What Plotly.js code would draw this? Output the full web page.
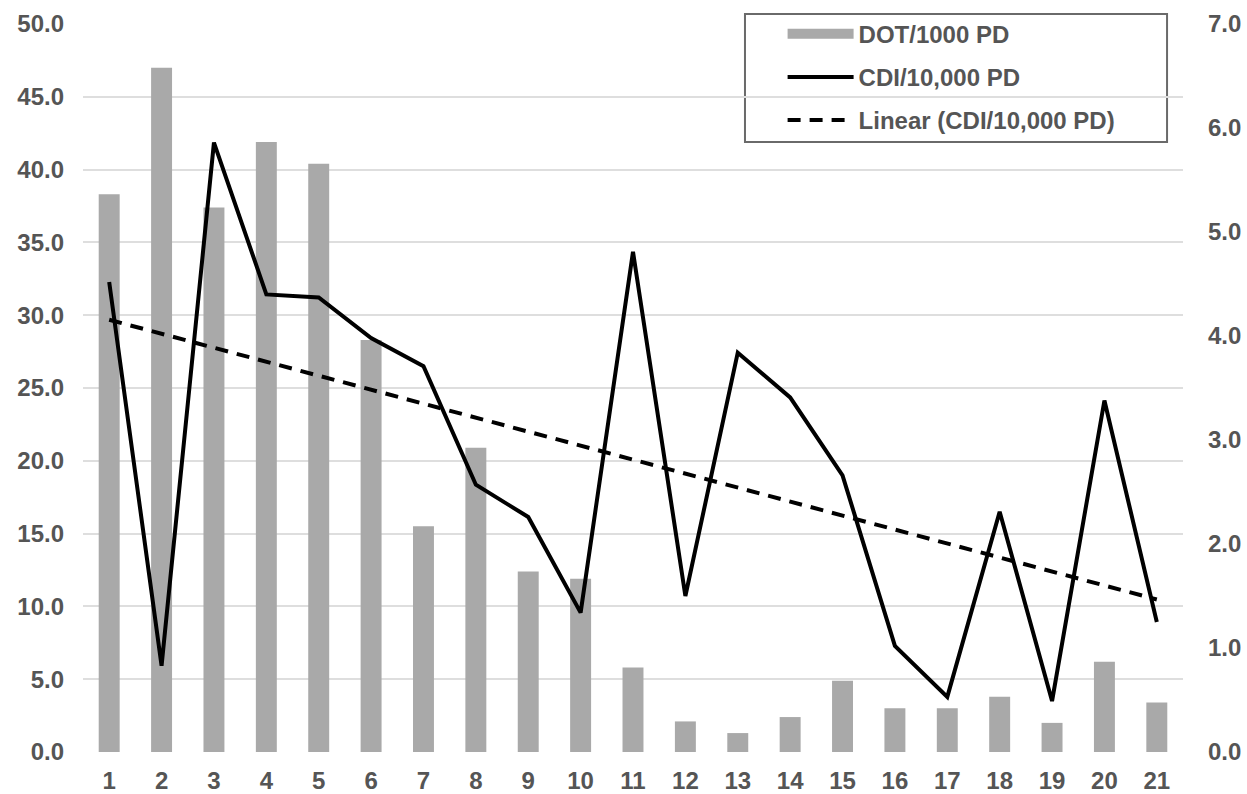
<!DOCTYPE html>
<html>
<head>
<meta charset="utf-8">
<script src="https://cdn.plot.ly/plotly-3.0.1.min.js"></script>
<style>
  html, body { margin: 0; padding: 0; background: #ffffff; }
  #chart { width: 1247px; height: 794px; }
</style>
</head>
<body>
<div id="chart"></div>
<script>
// ---- data ----
const categories = ['1','2','3','4','5','6','7','8','9','10','11','12','13','14','15','16','17','18','19','20','21'];
const dotPer1000PD = [38.3, 47.0, 37.4, 41.9, 40.4, 28.3, 15.5, 20.9, 12.4, 11.9, 5.8, 2.1, 1.3, 2.4, 4.9, 3.0, 3.0, 3.8, 2.0, 6.2, 3.4];
const cdiPer10000PD = [4.52, 0.83, 5.86, 4.40, 4.37, 3.98, 3.71, 2.57, 2.26, 1.34, 4.81, 1.50, 3.84, 3.41, 2.66, 1.02, 0.53, 2.31, 0.49, 3.38, 1.25];
const leftTicks = [0, 5, 10, 15, 20, 25, 30, 35, 40, 45, 50];
const rightTicks = [0, 1, 2, 3, 4, 5, 6, 7];
const seriesNames = ['DOT/1000 PD', 'CDI/10,000 PD', 'Linear (CDI/10,000 PD)'];

// least-squares linear trendline of the CDI series (as Excel's "Linear" trendline)
const n = cdiPer10000PD.length;
const idx = cdiPer10000PD.map((_, i) => i + 1);
const mx = idx.reduce((a, b) => a + b, 0) / n;
const my = cdiPer10000PD.reduce((a, b) => a + b, 0) / n;
let sxy = 0, sxx = 0;
for (let i = 0; i < n; i++) { sxy += (idx[i] - mx) * (cdiPer10000PD[i] - my); sxx += (idx[i] - mx) ** 2; }
const slope = sxy / sxx;
const intercept = my - slope * mx;
const trend = idx.map(x => intercept + slope * x);

const textColor = '#555555';
const barColor = '#a9a9a9';
const font = { family: 'Liberation Sans, Arial, sans-serif', size: 24, color: textColor, weight: 'bold' };

const traces = [
  { type: 'bar', x: categories, y: dotPer1000PD, name: seriesNames[0], marker: { color: barColor },
    yaxis: 'y', showlegend: false, legendgroup: 'g1', hoverinfo: 'x+y' },
  // legend-only swatch for the bars (wide strip as in the reference)
  { type: 'scatter', mode: 'lines', x: [null], y: [null], name: seriesNames[0], legendgroup: 'g1',
    line: { color: barColor, width: 15 }, yaxis: 'y', hoverinfo: 'skip' },
  { type: 'scatter', mode: 'lines', x: categories, y: cdiPer10000PD, name: seriesNames[1], legendgroup: 'g2',
    line: { color: '#000000', width: 4 }, yaxis: 'y2' },
  { type: 'scatter', mode: 'lines', x: categories, y: trend, name: seriesNames[2], legendgroup: 'g3',
    line: { color: '#000000', width: 4, dash: '13px,9px' }, yaxis: 'y2' }
];

const layout = {
  width: 1247, height: 794,
  margin: { l: 83, r: 64, t: 24, b: 42, pad: 0 },
  paper_bgcolor: '#ffffff', plot_bgcolor: '#ffffff',
  font: font,
  bargap: 0.6,
  showlegend: true,
  xaxis: {
    type: 'category', categoryorder: 'array', categoryarray: categories,
    showgrid: false, zeroline: false, showline: false, ticks: '',
    ticklabelstandoff: 12, tickfont: font
  },
  yaxis: {
    range: [0, 50], tickvals: leftTicks, tickformat: '.1f',
    showgrid: true, gridcolor: '#dedede', gridwidth: 2,
    zeroline: false, showline: false, ticks: '', ticklabelstandoff: 18, tickfont: font
  },
  yaxis2: {
    range: [0, 7], tickvals: rightTicks, tickformat: '.1f', overlaying: 'y', side: 'right',
    showgrid: false, zeroline: false, showline: false, ticks: '', ticklabelstandoff: 24, tickfont: font
  },
  legend: {
    x: 0.636, y: 1.017, xanchor: 'left', yanchor: 'top',
    bgcolor: 'rgba(0,0,0,0)', borderwidth: 0,
    font: font, itemwidth: 66, traceorder: 'grouped', tracegroupgap: 9,
    itemclick: false, itemdoubleclick: false
  },
  shapes: [{
    type: 'rect', xref: 'paper', yref: 'paper', layer: 'between',
    x0: 0.6018, x1: 0.9855, y0: 0.8379, y1: 1.0137,
    fillcolor: '#ffffff', line: { color: '#6a6a6a', width: 2 }
  }]
};

Plotly.newPlot('chart', traces, layout, { displayModeBar: false, staticPlot: true });
</script>
</body>
</html>
